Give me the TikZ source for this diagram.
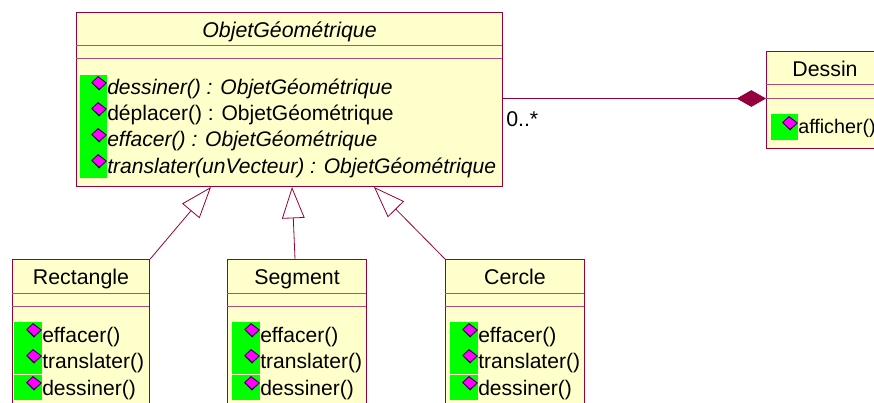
\documentclass[tikz,border=0pt]{standalone}
\usepackage{fontspec}
\setmainfont{Liberation Sans}
\usetikzlibrary{arrows.meta}
\definecolor{umlline}{RGB}{150,0,60}
\definecolor{umlfill}{RGB}{255,255,204}
\definecolor{umlgreen}{RGB}{0,255,0}
\definecolor{umlicon}{RGB}{255,0,255}
\definecolor{umldark}{RGB}{50,0,80}
\tikzset{
  x=0.75pt,y=-0.75pt,
  classbox/.style={draw=umlline,line width=0.9pt,fill=umlfill,rectangle,inner sep=0pt,anchor=north west},
  sepline/.style={draw=umlline!70,line width=0.75pt},
  conn/.style={draw=umlline,line width=0.6pt},
  inherit/.style={conn,-{Triangle[open,fill=white,length=23.5pt,width=17pt]}},
  titletext/.style={font=\fontsize{16}{18}\selectfont,anchor=base,inner sep=0pt},
  optext/.style={font=\fontsize{15.8}{18}\selectfont,anchor=base west,inner sep=0pt},
  greenbar/.style={fill=umlgreen,draw=none},
  iconmark/.style={fill=umlicon},
  iconshadow/.style={fill=umldark},
}
\newcommand{\opicon}[2]{%
  \path[iconshadow] (#1-8,#2-0.5) -- (#1-1,#2-7) -- (#1+8,#2) -- (#1,#2+7.5) -- cycle;
  \path[iconmark] (#1-6.5,#2-0.5) -- (#1-1,#2-5.5) -- (#1+6.5,#2) -- (#1,#2+5.5) -- cycle;}
\begin{document}
\begin{tikzpicture}
\useasboundingbox (0,0) rectangle (874,403);
\clip (0,0) rectangle (874,403);
% boxes
\node[classbox,minimum width=319.5pt,minimum height=130.5pt] (objet) at (76,12) {};
\node[classbox,minimum width=90pt,minimum height=72.75pt] (dessin) at (766,51) {};
\node[classbox,minimum width=102.75pt,minimum height=120pt] (rect) at (12,259) {};
\node[classbox,minimum width=104.25pt,minimum height=120pt] (seg) at (227,259) {};
\node[classbox,minimum width=104.25pt,minimum height=120pt] (cercle) at (445,259) {};
% separators
\draw[sepline] (76,46) -- (502,46) (76,59) -- (502,59);
\draw[sepline] (766,85) -- (874,85) (766,98) -- (874,98);
\foreach \l/\r in {12/149,227/366,445/584}{
  \draw[sepline] (\l,293) -- (\r,293) (\l,306) -- (\r,306);
}
% titles
\node[titletext,font=\fontsize{16}{18}\selectfont\itshape] (t0) at (289.5,38) {ObjetGéométrique};
\node[titletext] (t1) at (825,77) {Dessin};
\node[titletext] (t2) at (81,284) {Rectangle};
\node[titletext] (t3) at (297,284) {Segment};
\node[titletext] (t4) at (515,284) {Cercle};
% green bars
\fill[greenbar] (80,75) rectangle (107,178);
\fill[greenbar] (771,114) rectangle (798,140);
\foreach \l in {14,232,450}{
  \fill[greenbar] (\l,322) rectangle (\l+28,374);
  \fill[greenbar] (\l,375) rectangle (\l+28,400);
}
% icons
\foreach \y in {83,109,135,161}{ \opicon{99}{\y} }
\opicon{790}{123}
\foreach \l in {34,252,470}{
  \foreach \y in {330,356,383}{ \opicon{\l}{\y} }
}
% operations
\node[optext,font=\fontsize{15.8}{18}\selectfont\itshape] (a1) at (107,94) {dessiner() : ObjetGéométrique};
\node[optext] (a2) at (107,120) {déplacer() : ObjetGéométrique};
\node[optext,font=\fontsize{15.8}{18}\selectfont\itshape] (a3) at (107,146) {effacer() : ObjetGéométrique};
\node[optext,font=\fontsize{15.8}{18}\selectfont\itshape] (a4) at (107,173) {translater(unVecteur) : ObjetGéométrique};
\node[optext,font=\fontsize{14.8}{18}\selectfont] (d1) at (798,133) {afficher()};
\foreach \n/\l in {r/42,s/260,c/478}{
  \node[optext] (\n1) at (\l,342) {effacer()};
  \node[optext] (\n2) at (\l,368) {translater()};
  \node[optext] (\n3) at (\l,395) {dessiner()};
}
% connectors
\coordinate (ap1) at (211,187);
\coordinate (ap2) at (292,187);
\coordinate (ap3) at (374,187);
\coordinate (dj) at (502,98.5);
\coordinate (dd) at (766,98.5);
\draw[inherit] (rect.north east) -- (ap1);
\coordinate (sg) at (295,259);
\draw[inherit] (sg) -- (ap2);
\draw[inherit] (cercle.north west) -- (ap3);
\draw[conn,-{Diamond[length=22pt,width=12.5pt,fill=umlline]}] (dj) -- (dd);
\node[optext,font=\fontsize{16}{18}\selectfont] (mult) at (506,126) {0..*};
\end{tikzpicture}
\end{document}
